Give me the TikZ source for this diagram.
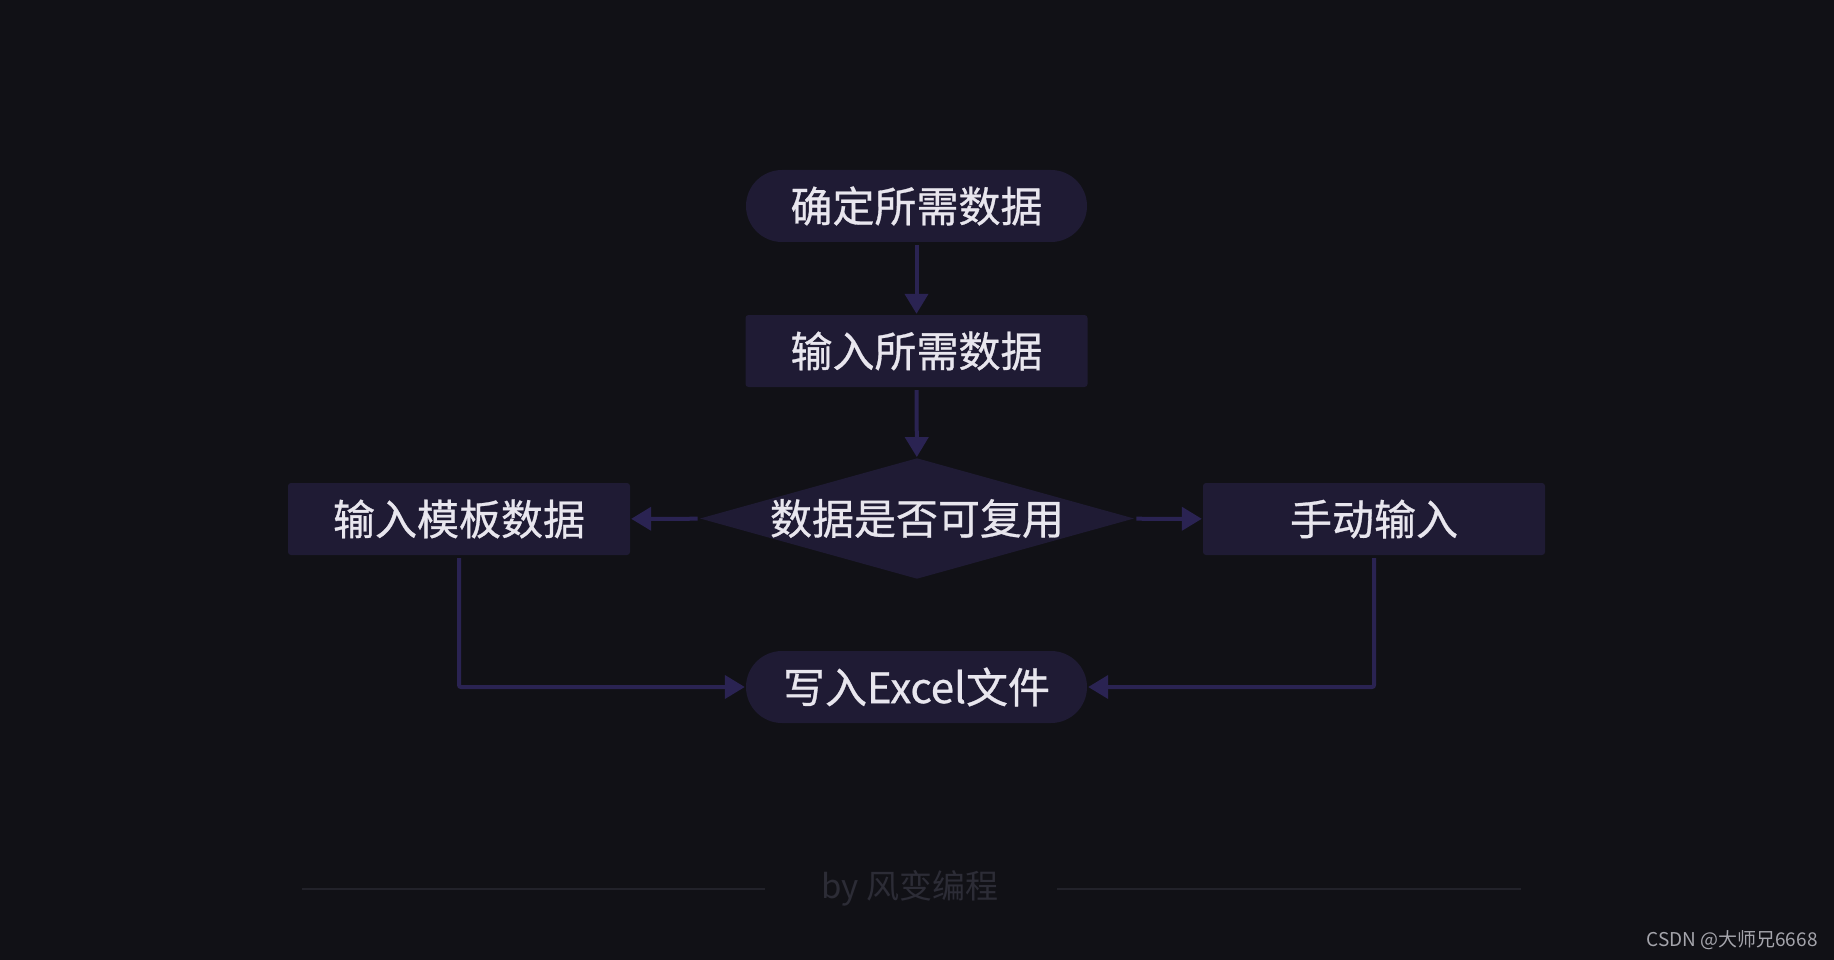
\documentclass[tikz,border=0pt]{standalone}
\usepackage{fontspec}
\setmainfont{Noto Sans CJK SC}
\newfontfamily\nodefont{Noto Sans CJK SC}[FakeBold=0.7]
\usetikzlibrary{shapes.geometric,arrows.meta}
\definecolor{bgc}{RGB}{17,17,22}
\definecolor{nodefill}{RGB}{31,27,52}
\definecolor{linec}{RGB}{42,35,82}
\definecolor{txtc}{RGB}{232,230,238}
\definecolor{footc}{RGB}{44,44,54}
\definecolor{footline}{RGB}{34,34,42}
\definecolor{wmc}{RGB}{165,165,172}
\tikzset{
  base/.style={fill=nodefill, draw=none, text=txtc, font=\nodefont\fontsize{42}{42}\selectfont, inner sep=0pt},
  pill/.style={base, rectangle, rounded corners=36pt, minimum width=341pt, minimum height=72pt},
  box/.style={base, rectangle, rounded corners=3pt, minimum width=342pt, minimum height=72pt},
  decide/.style={base, diamond, aspect=3.6, minimum width=430pt, minimum height=119pt},
  conn/.style={draw=linec, line width=4pt, -{Triangle[width=23pt,length=20pt]}, shorten <=3pt, shorten >=1pt},
}
\begin{document}
\begin{tikzpicture}[x=1pt,y=-1pt]
\fill[bgc] (0,0) rectangle (1834,960);
\useasboundingbox (0,0) rectangle (1834,960);
\node[pill] (start) at (916.5,206) {确定所需数据};
\node[box] (input) at (916.5,351) {输入所需数据};
\node[decide] (dec) at (917,518.5) {数据是否可复用};
\node[box] (tmpl) at (459,519) {输入模板数据};
\node[box] (manual) at (1374,519) {手动输入};
\node[pill] (write) at (916.5,687) {写入Excel文件};
\draw[conn] (start) -- (input);
\draw[conn] (input) -- (dec);
\draw[conn] (dec) -- (tmpl);
\draw[conn] (dec) -- (manual);
\draw[conn, rounded corners=2pt] (tmpl.south) |- (write.west);
\draw[conn, rounded corners=2pt] (manual.south) |- (write.east);
\node[text=footc, font=\fontsize{33}{33}\selectfont, inner sep=0pt] (foot) at (910,888) {by 风变编程};
\coordinate (fl1) at (302,889);
\coordinate (fl2) at (765,889);
\coordinate (fr1) at (1057,889);
\coordinate (fr2) at (1521,889);
\draw[footline, line width=2pt] (fl1) -- (fl2);
\draw[footline, line width=2pt] (fr1) -- (fr2);
\node[text=wmc, font=\fontsize{19}{19}\selectfont, inner sep=0pt] (wm) at (1732,940) {CSDN @大师兄6668};
\end{tikzpicture}
\end{document}
